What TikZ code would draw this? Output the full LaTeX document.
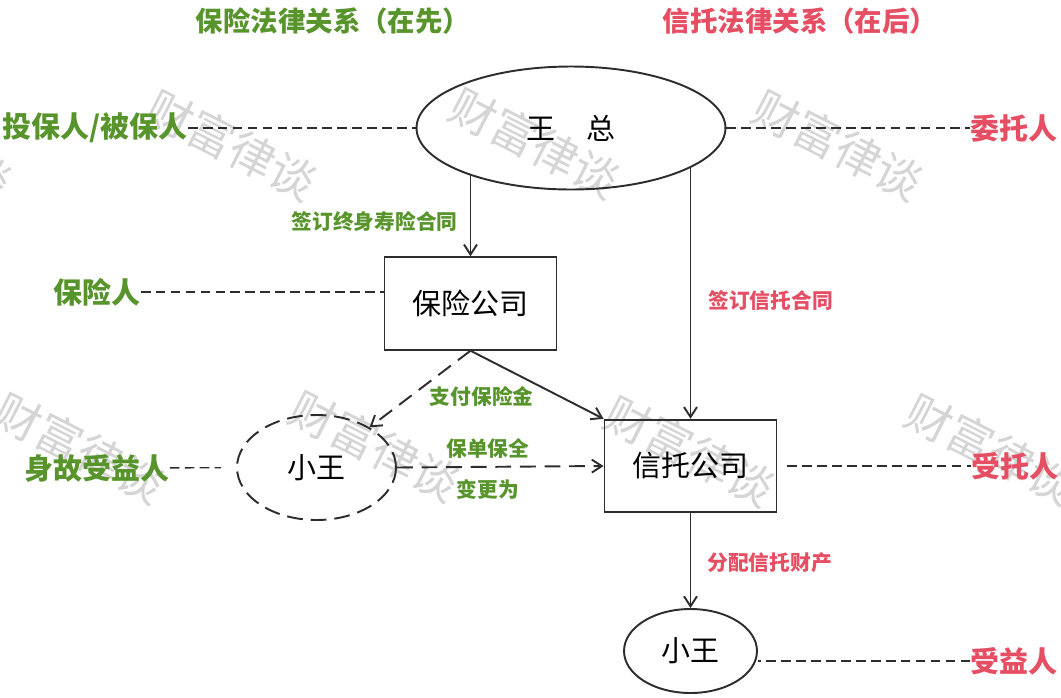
\documentclass[tikz,border=0pt]{standalone}
\usepackage{fontspec}
\setmainfont{Noto Sans CJK SC}
\usepackage{xcolor}
\usetikzlibrary{arrows.meta,positioning,shapes}

\definecolor{insgreen}{RGB}{88,148,44}
\definecolor{trustred}{RGB}{229,78,99}
\definecolor{linegray}{RGB}{45,45,45}

\begin{document}
\begin{tikzpicture}[x=0.02cm, y=-0.02cm,
  person/.style={draw=linegray, ellipse, line width=1.1pt, inner sep=0pt,
                 font=\fontsize{16.5}{18}\selectfont},
  comp/.style={draw=linegray, rectangle, line width=1.1pt, minimum width=3.44cm,
               minimum height=1.85cm, font=\fontsize{16.5}{18}\selectfont},
  arr/.style={-{Straight Barb[length=2mm, width=2.6mm]}, line width=1.1pt, draw=linegray},
  darr/.style={arr, dash pattern=on 9pt off 5pt},
  role/.style={font=\bfseries\fontsize{16.5}{18}\selectfont, inner sep=0pt},
  tie/.style={draw=linegray, line width=0.8pt, dash pattern=on 5.5pt off 3pt},
  elbl/.style={font=\bfseries\fontsize{11.8}{13}\selectfont, inner sep=0pt},
  head/.style={font=\bfseries\fontsize{15.6}{17}\selectfont, inner sep=0pt},
  wmark/.style={text=gray!33, rotate=-27, font=\fontsize{26}{26}\selectfont}
]
  \useasboundingbox (0,0) rectangle (1061,697);

  % watermark
  \begin{scope}
    \clip (0,0) rectangle (1061,697);
    \foreach \wx/\wy [count=\i] in {-73/145, 232/145, 535/143, 838/145,
                                    80/448, 375/446, 690/451, 991/449}
      \node[wmark] (wm\i) at (\wx,\wy) {财富律谈};
  \end{scope}

  \node[head, text=insgreen]  (t1) at (333,21) {保险法律关系（在先）};
  \node[head, text=trustred]  (t2) at (800,21) {信托法律关系（在后）};

  \node[person, minimum width=6.18cm, minimum height=2.46cm] (boss)  at (571,128)   {王\hspace{1.1em}总};
  \node[comp]                                                (insco) at (470.5,303.5) {保险公司};
  \node[comp]                                                (trust) at (690.5,466) {信托公司};
  \node[person, dash pattern=on 9pt off 4.5pt,
        minimum width=3.18cm, minimum height=2.1cm]          (heir)  at (316.5,467.5) {小王};
  \node[person, minimum width=2.66cm, minimum height=1.68cm] (benef) at (690.5,651) {小王};

  \draw[arr] (boss.-155 -| insco.north) -- node[elbl, text=insgreen, pos=0.57, left=0.24cm]{签订终身寿险合同} (insco.north);
  \draw[arr] (boss.-18 -| trust.north) -- node[elbl, text=trustred, pos=0.53, right=0.34cm]{签订信托合同} (trust.north);
  \draw[arr] (insco.south) -- (trust.north west);
  \draw[darr] (insco.south) -- node[elbl, text=insgreen, pos=0.6, right=0.38cm]{支付保险金} (heir);
  \draw[darr] (heir.east) -- node[elbl, text=insgreen, pos=0.44, above=0.14cm]{保单保全}
                             node[elbl, text=insgreen, pos=0.44, below=0.24cm]{变更为} (trust.west);
  \draw[arr] (trust.south) -- node[elbl, text=trustred, pos=0.52, right=0.32cm]{分配信托财产} (benef.north);

  % roles on both sides
  \node[role, text=insgreen] (r1) at (95,128)   {投保人/被保人};
  \node[role, text=insgreen] (r2) at (97,292)   {保险人};
  \node[role, text=insgreen] (r3) at (97,468)   {身故受益人};
  \node[role, text=trustred] (r4) at (1014,128) {委托人};
  \node[role, text=trustred] (r5) at (1015,466) {受托人};
  \node[role, text=trustred] (r6) at (1014,661) {受益人};

  \draw[tie] (r1) -- (boss);
  \draw[tie] (r2) -- (r2 -| insco.west);
  \draw[tie, shorten >=0.3cm] (r3) -- (heir);
  \draw[tie] (boss) -- (r4);
  \draw[tie, shorten <=0.2cm] (trust) -- (r5);
  \draw[tie] (r6.west) -- (r6.west -| benef.east);
\end{tikzpicture}
\end{document}
